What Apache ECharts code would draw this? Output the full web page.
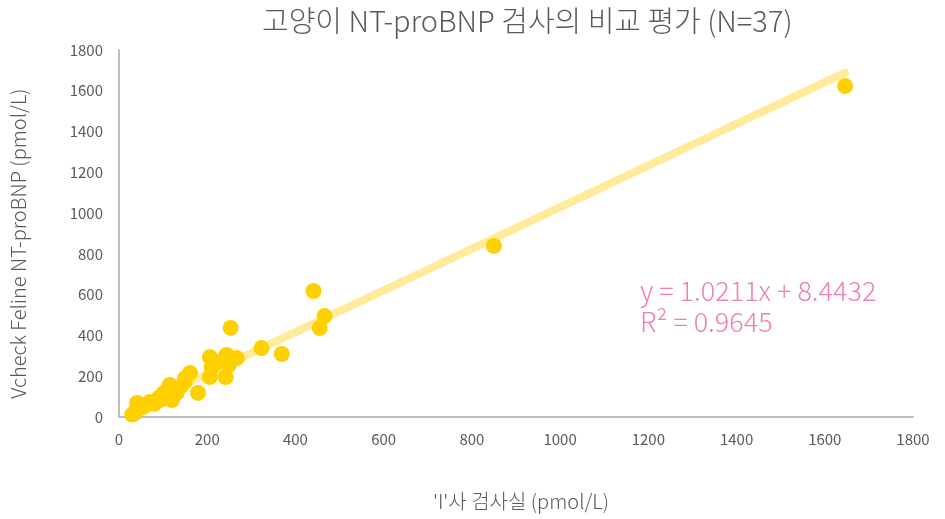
<!DOCTYPE html>
<html>
<head>
<meta charset="utf-8">
<script src="https://cdn.jsdelivr.net/npm/echarts@6/dist/echarts.min.js"></script>
<style>
  html, body { margin: 0; padding: 0; background: #fff; }
  #chart { width: 945px; height: 519px; }
</style>
</head>
<body>
<div id="chart"></div>
<script>
// reference lab (I) vs Vcheck values, pmol/L
const labValues = [
  1646, 850, 441, 253, 466, 455, 323, 369,
  206, 244, 267, 210, 249, 206, 242,
  161, 149, 179, 115, 131, 102, 90, 120, 70, 59, 41, 36, 30,
  45, 55, 80, 95, 110, 125, 140, 150, 225
]
const vcheckValues = [
  1623, 839, 618, 437, 495, 436, 338, 309,
  294, 304, 289, 245, 255, 196, 196,
  216, 172, 118, 157, 118, 118, 93, 83, 74, 59, 69, 20, 12,
  40, 50, 65, 85, 100, 130, 150, 190, 270
]
const slope = 1.0211
const intercept = 8.4432
const trendX = [30, 1646]

const points = labValues.map((x, i) => [x, vcheckValues[i]])
const trendLine = trendX.map(x => [x, slope * x + intercept])

const font = "'Noto Sans CJK KR', 'Noto Sans', sans-serif"
const chart = echarts.init(document.getElementById('chart'))

chart.setOption({
  animation: false,
  textStyle: { fontFamily: font },
  title: {
    text: '고양이 NT-proBNP 검사의 비교 평가 (N=37)',
    left: 257,
    top: 1,
    textStyle: { fontSize: 29, fontWeight: 300, color: '#595959', fontFamily: font }
  },
  grid: { left: 117, right: 32, top: 50, bottom: 102 },
  xAxis: {
    type: 'value',
    min: 0,
    max: 1800,
    interval: 200,
    name: "'I'사 검사실 (pmol/L)",
    nameLocation: 'middle',
    nameGap: 74,
    nameTextStyle: { fontSize: 20, color: '#595959', fontWeight: 300, padding: [0, 0, 0, 10] },
    axisLine: { show: true, lineStyle: { color: '#bfbfbf', width: 2 } },
    axisTick: { show: false },
    splitLine: { show: false },
    axisLabel: { fontSize: 15, color: '#595959', margin: 15, formatter: v => String(v) }
  },
  yAxis: {
    type: 'value',
    min: 0,
    max: 1800,
    interval: 200,
    name: 'Vcheck Feline NT-proBNP (pmol/L)',
    nameLocation: 'middle',
    nameGap: 91,
    nameTextStyle: { fontSize: 20, color: '#595959', fontWeight: 300, padding: [0, 20, 0, 0] },
    axisLine: { show: true, lineStyle: { color: '#bfbfbf', width: 2 } },
    axisTick: { show: false },
    splitLine: { show: false },
    axisLabel: { fontSize: 15, color: '#595959', margin: 16, formatter: v => String(v) }
  },
  series: [
    {
      name: 'trend',
      type: 'line',
      data: trendLine,
      symbol: 'none',
      lineStyle: { color: '#ffeb99', width: 8, cap: 'round' },
      z: 1
    },
    {
      name: 'samples',
      type: 'scatter',
      data: points,
      symbolSize: 16,
      itemStyle: { color: '#ffd000', opacity: 1 },
      z: 2
    }
  ],
  graphic: [
    {
      type: 'text',
      left: 640,
      top: 275,
      style: {
        text: 'y = 1.0211x + 8.4432\nR² = 0.9645',
        fill: '#ec7fb3',
        fontSize: 27,
        lineHeight: 31,
        fontFamily: font,
        fontWeight: 300
      }
    }
  ]
})
</script>
</body>
</html>
